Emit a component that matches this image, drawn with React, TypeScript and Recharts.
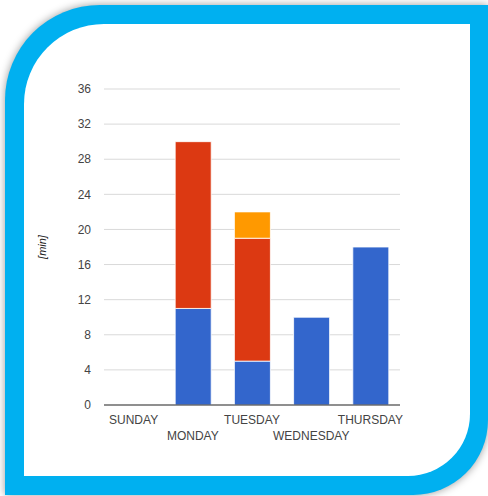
import React from 'react';
import { BarChart, Bar, XAxis, YAxis, CartesianGrid } from 'recharts';

const days = ['SUNDAY', 'MONDAY', 'TUESDAY', 'WEDNESDAY', 'THURSDAY'];
const blueValues = [0, 11, 5, 10, 18];
const redValues = [0, 19, 14, 0, 0];
const orangeValues = [0, 0, 3, 0, 0];
const yTicks = [0, 4, 8, 12, 16, 20, 24, 28, 32, 36];

const data = days.map((day, i) => ({
    day,
    blue: blueValues[i],
    red: redValues[i],
    orange: orangeValues[i],
}));

const FONT = "Arial, 'Liberation Sans', sans-serif";

// labels alternate between two rows, like the original
const DayTick = (props: any) => {
    const { x, y, payload, index } = props;
    return (
        <text x={x} y={y + (index % 2 ? 35 : 19)} textAnchor="middle" fill="#444" fontSize={12} fontFamily={FONT}>
            {payload.value}
        </text>
    );
};

const MinLabel = (props: any) => {
    const vb = props.viewBox || {};
    const cx = 43;
    const cy = (vb.y ?? 89) + (vb.height ?? 316) / 2;
    return (
        <text x={cx} y={cy} transform={`rotate(-90 ${cx} ${cy})`} textAnchor="middle" dominantBaseline="middle"
            fill="#222" fontSize={11} fontStyle="italic" fontFamily={FONT}>
            [min]
        </text>
    );
};

export default function App() {
    return (
        <div style={{ position: 'absolute', left: 0, top: 0, width: 488, height: 496, overflow: 'hidden', background: '#fff' }}>
            {/* frame */}
            <div style={{
                position: 'absolute', left: 5, top: 5, width: 483, height: 490,
                background: '#00B0F0',
                borderTopLeftRadius: 95, borderBottomRightRadius: 75,
                boxShadow: '0 0 9px rgba(0,0,0,0.4)',
            }} />
            <div style={{
                position: 'absolute', left: 24, top: 24, width: 446, height: 452,
                background: '#fff',
                borderTopLeftRadius: 80, borderBottomRightRadius: 62,
            }} />
            <div style={{ position: 'absolute', left: 0, top: 0 }}>
                <BarChart width={488} height={496} data={data} margin={{ top: 89, right: 88, bottom: 51, left: 0 }}>
                    <CartesianGrid vertical={false} stroke="#d9d9d9" />
                    <XAxis
                        dataKey="day"
                        height={40}
                        interval={0}
                        tickLine={false}
                        tickSize={0}
                        tickMargin={0}
                        axisLine={{ stroke: '#333' }}
                        tick={<DayTick />}
                    />
                    <YAxis
                        width={104}
                        domain={[0, 36]}
                        ticks={yTicks}
                        axisLine={false}
                        tickLine={false}
                        tickSize={0}
                        tickMargin={13}
                        tick={{ fill: '#444', fontSize: 12, fontFamily: FONT }}
                        label={(p: any) => <MinLabel {...p} />}
                    />
                    <Bar dataKey="blue" stackId="a" fill="#3366CC" stroke="#ffffff" strokeWidth={0.8} barSize={36} isAnimationActive={false} />
                    <Bar dataKey="red" stackId="a" fill="#DC3912" stroke="#ffffff" strokeWidth={0.8} barSize={36} isAnimationActive={false} />
                    <Bar dataKey="orange" stackId="a" fill="#FF9900" stroke="#ffffff" strokeWidth={0.8} barSize={36} isAnimationActive={false} />
                </BarChart>
            </div>
        </div>
    );
}
